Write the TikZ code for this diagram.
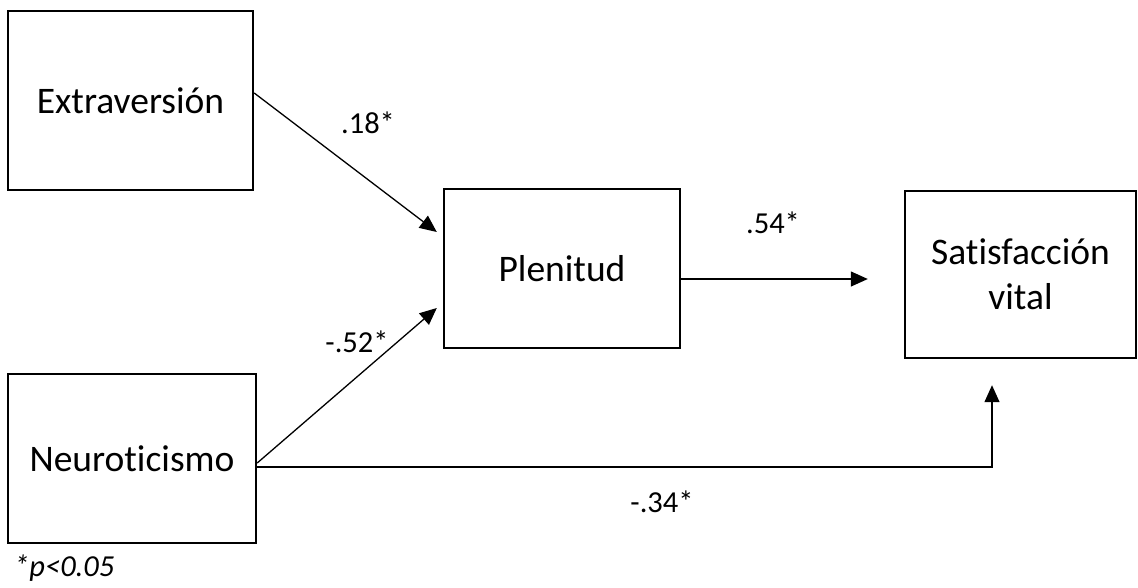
\documentclass[tikz,border=0pt]{standalone}
\usepackage{fontspec}
\setmainfont{Carlito}[Ligatures=NoCommon]
\usetikzlibrary{arrows.meta}
\begin{document}
\begin{tikzpicture}[x=1pt,y=-1pt,
  varbox/.style={draw, line width=2.4pt, inner sep=0pt, align=center,
    font=\fontsize{37.5}{45}\selectfont},
  coef/.style={font=\fontsize{30.5}{36}\selectfont, inner sep=0pt},
  path arrow/.style={line width=1.3pt, -{Triangle[length=17pt,width=15pt]}}]
\useasboundingbox (0,0) rectangle (1138,587);

% variables
\node[varbox, minimum width=245pt, minimum height=179pt] (ext) at (130.5,100.5) {Extraversión};
\node[varbox, minimum width=248pt, minimum height=169pt] (neu) at (132,458.5) {Neuroticismo};
\node[varbox, minimum width=236pt, minimum height=159pt] (plen) at (562,268.5) {Plenitud};
\node[varbox, minimum width=231pt, minimum height=167pt] (sat) at (1020.5,274.5) {Satisfacción\\vital};

% paths
\draw[path arrow] ([yshift=7.5pt]ext.east) -- ([xshift=-6pt,yshift=36.5pt]plen.west);
\draw[path arrow] ([yshift=-4.5pt]neu.east) -- ([xshift=-6pt,yshift=-39.5pt]plen.west);
\coordinate (satin) at ([xshift=-36pt,yshift=-4.5pt]sat.west);
\draw[path arrow] (plen.east |- satin) -- (satin);
\draw[path arrow] ([yshift=-8.5pt]neu.east) -| ([xshift=-28.5pt,yshift=-26pt]sat.south);

% coefficients
\node[coef] (c1) at (368,123) {.18*};
\node[coef] (c2) at (357,342) {-.52*};
\node[coef] (c3) at (773,223) {.54*};
\node[coef] (c4) at (662,502) {-.34*};
\node[coef, anchor=west] (note) at (14,568) {\itshape *p<0.05};
\end{tikzpicture}
\end{document}
